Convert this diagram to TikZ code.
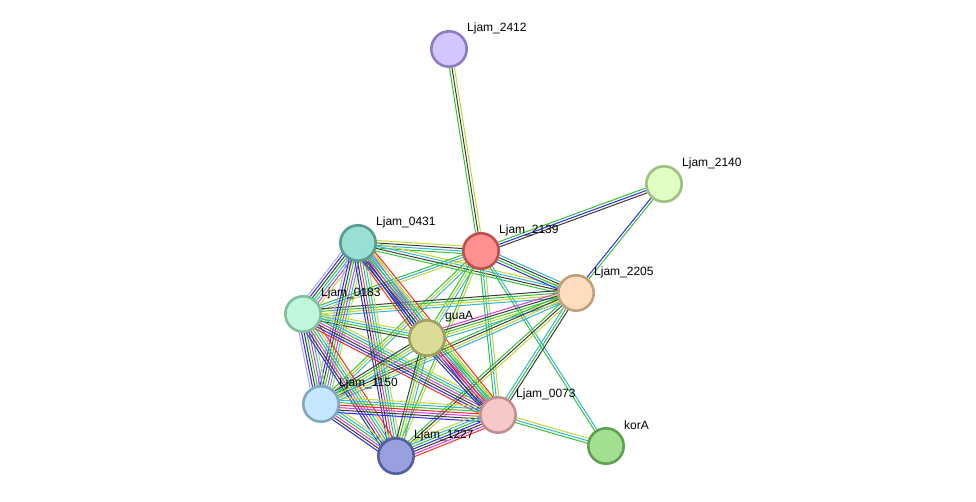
\documentclass[tikz,border=0pt]{standalone}
\usepackage{fontspec}
\setmainfont{Liberation Sans}
\usetikzlibrary{calc,backgrounds}
\definecolor{cG}{HTML}{33C433}
\definecolor{cB}{HTML}{2B2BF5}
\definecolor{cK}{HTML}{3C3C3C}
\definecolor{cY}{HTML}{C2D634}
\definecolor{cC}{HTML}{33B5D9}
\definecolor{cM}{HTML}{DB3BDB}
\definecolor{cR}{HTML}{F52B2B}
\definecolor{cL}{HTML}{A8A8FF}
\tikzset{
  prot/.style={circle, minimum size=35.4pt, line width=2.6pt, inner sep=0pt},
  lab/.style={anchor=west, inner sep=0pt, font=\fontsize{12}{14}\selectfont},
  edgeline/.style={line width=1pt},
}
\newcommand\sedge[3]{%
  \foreach \ecol [count=\i] in {#3} {\xdef\sedgen{\i}}%
  \foreach \ecol [count=\i] in {#3} {%
    \pgfmathsetmacro\sedgeoff{(\i-(\sedgen+1)/2)*2.5}%
    \draw[edgeline,\ecol] ($(#1.center)!\sedgeoff pt!90:(#2.center)$) -- ($(#2.center)!\sedgeoff pt!-90:(#1.center)$);
  }%
}
\begin{document}
\begin{tikzpicture}[x=1pt,y=-1pt]
\useasboundingbox (0,0) rectangle (976,502);
% nodes
\node[prot, fill={rgb,255:red,212;green,196;blue,255}, draw={rgb,255:red,142;green,124;blue,195}] (n2412) at (449,49) {};
\node[prot, fill={rgb,255:red,224;green,255;blue,192}, draw={rgb,255:red,160;green,192;blue,128}] (n2140) at (664,184) {};
\node[prot, fill={rgb,255:red,255;green,144;blue,144}, draw={rgb,255:red,192;green,80;blue,80}] (n2139) at (481,251) {};
\node[prot, fill={rgb,255:red,152;green,224;blue,212}, draw={rgb,255:red,90;green,154;blue,144}] (n0431) at (358,243) {};
\node[prot, fill={rgb,255:red,255;green,220;blue,188}, draw={rgb,255:red,192;green,160;blue,128}] (n2205) at (576,293) {};
\node[prot, fill={rgb,255:red,192;green,248;blue,220}, draw={rgb,255:red,128;green,192;blue,160}] (n0183) at (303,314) {};
\node[prot, fill={rgb,255:red,220;green,220;blue,152}, draw={rgb,255:red,160;green,160;blue,96}] (nguaA) at (427,338) {};
\node[prot, fill={rgb,255:red,196;green,232;blue,255}, draw={rgb,255:red,128;green,168;blue,192}] (n1150) at (321,404) {};
\node[prot, fill={rgb,255:red,248;green,200;blue,200}, draw={rgb,255:red,192;green,144;blue,144}] (n0073) at (498,415) {};
\node[prot, fill={rgb,255:red,160;green,224;blue,144}, draw={rgb,255:red,96;green,160;blue,80}] (nkorA) at (606,446) {};
\node[prot, fill={rgb,255:red,152;green,160;blue,224}, draw={rgb,255:red,80;green,96;blue,160}] (n1227) at (396,456) {};
% labels
\node[lab] (l2412) at ($(n2412)+(18,-21)$) {Ljam\_2412};
\node[lab] (l2140) at ($(n2140)+(18,-21)$) {Ljam\_2140};
\node[lab] (l2139) at ($(n2139)+(18,-21)$) {Ljam\_2139};
\node[lab] (l0431) at ($(n0431)+(18,-21)$) {Ljam\_0431};
\node[lab] (l2205) at ($(n2205)+(18,-21)$) {Ljam\_2205};
\node[lab] (l0183) at ($(n0183)+(18,-21)$) {Ljam\_0183};
\node[lab] (lguaA) at ($(nguaA)+(18,-21)$) {guaA};
\node[lab] (l1150) at ($(n1150)+(18,-21)$) {Ljam\_1150};
\node[lab] (l0073) at ($(n0073)+(18,-21)$) {Ljam\_0073};
\node[lab] (lkorA) at ($(nkorA)+(18,-21)$) {korA};
\node[lab] (l1227) at ($(n1227)+(18,-21)$) {Ljam\_1227};
% edges
\begin{pgfonlayer}{background}
\fill[white] (0,0) rectangle (976,502);
\sedge{n2412}{n2139}{cG,cK,cY}
\sedge{n2140}{n2139}{cG,cB,cK}
\sedge{n2140}{n2205}{cB,cG}
\sedge{n0431}{n2139}{cG,cC,cK,cY}
\sedge{n0431}{n2205}{cG,cK,cC,cY}
\sedge{n2139}{n2205}{cB,cG,cK,cC}
\sedge{n2139}{nguaA}{cG,cY,cC}
\sedge{n2139}{n0183}{cG,cC,cY}
\sedge{n2139}{n1150}{cG,cY,cC}
\sedge{n2139}{n1227}{cG,cY}
\sedge{n2139}{n0073}{cG,cC,cY}
\sedge{n2139}{nkorA}{cG,cC}
\sedge{n2205}{n0183}{cK,cG,cY,cC}
\sedge{n2205}{nguaA}{cM,cK,cG,cY,cC}
\sedge{n2205}{n1150}{cG,cK,cY,cC}
\sedge{n2205}{n1227}{cG,cK,cY}
\sedge{n2205}{n0073}{cC,cG,cK}
\sedge{n0431}{n0183}{cL,cB,cK,cG,cC,cM,cY}
\sedge{n0431}{nguaA}{cR,cK,cB,cG,cC,cM,cY}
\sedge{n0431}{n1150}{cL,cB,cK,cG,cM,cC,cY}
\sedge{n0431}{n1227}{cB,cK,cM,cG,cC,cY}
\sedge{n0431}{n0073}{cB,cK,cM,cG,cC,cY,cR}
\sedge{n0183}{nguaA}{cK,cG,cC,cY}
\sedge{n0183}{n1150}{cL,cB,cK,cG,cM,cC,cY}
\sedge{n0183}{n1227}{cB,cK,cM,cG,cC,cY,cR}
\sedge{n0183}{n0073}{cR,cB,cK,cM,cG,cC,cY}
\sedge{nguaA}{n1150}{cK,cG,cY,cC}
\sedge{nguaA}{n1227}{cK,cG,cY,cC}
\sedge{nguaA}{n0073}{cB,cK,cM,cR,cC,cG,cY}
\sedge{n1150}{n1227}{cB,cK,cM,cG,cC,cY}
\sedge{n1150}{n0073}{cB,cK,cM,cR,cG,cC,cY}
\sedge{n1227}{n0073}{cR,cM,cK,cB,cG,cC,cY}
\sedge{n0073}{nkorA}{cG,cC,cY}
\end{pgfonlayer}
\end{tikzpicture}
\end{document}
